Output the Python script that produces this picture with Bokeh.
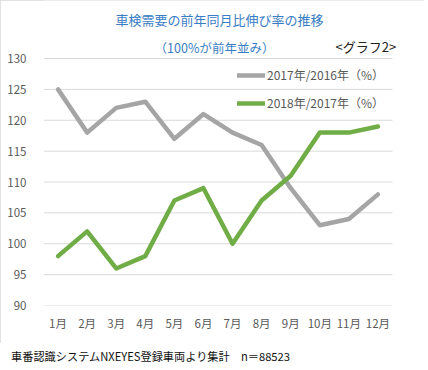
from bokeh.plotting import figure
from bokeh.models import (Label, Legend, LegendItem, FixedTicker, Div, Range1d)
from bokeh.layouts import column
from bokeh.embed import file_html
from bokeh.resources import INLINE

months = ["1月", "2月", "3月", "4月", "5月", "6月", "7月", "8月", "9月", "10月", "11月", "12月"]
s2017 = [125, 118, 122, 123, 117, 121, 118, 116, 109, 103, 104, 108]
s2018 = [98, 102, 96, 98, 107, 109, 100, 107, 111, 118, 118, 119]
yticks = [90, 95, 100, 105, 110, 115, 120, 125, 130]
name2017 = "2017年/2016年（%）"
name2018 = "2018年/2017年（%）"
title1 = "車検需要の前年同月比伸び率の推移"
title2 = "（100%が前年並み）"
tag = "<グラフ2>"
note = "車番認識システムNXEYES登録車両より集計　n＝88523"

FONT = "Noto Sans CJK JP"
W, H = 424, 343
FL, FB = 43, 38              # frame left / bottom border (px)
FH = H - FB                  # frame height (frame starts at top of figure)
PX_X = 349 / len(months)     # px per month
PX_Y = 247 / (yticks[-1] - yticks[0])

xs = list(range(len(months)))
x_end = -0.5 + (W - FL) / PX_X
y_end = yticks[0] + FH / PX_Y

p = figure(x_range=Range1d(-0.5, x_end), y_range=Range1d(yticks[0], y_end),
           width=W, height=H, output_backend="svg", toolbar_location=None,
           min_border_left=FL, min_border_right=0, min_border_top=0, min_border_bottom=FB)
p.outline_line_color = None
p.background_fill_color = "white"
p.border_fill_color = "white"
p.styles = {"outline": "1px solid #d9d9d9", "outline-offset": "-1px"}

p.xgrid.grid_line_color = None
p.ygrid.grid_line_color = None
p.segment(x0=[-0.5] * len(yticks), x1=[len(months) - 0.5] * len(yticks),
          y0=yticks, y1=yticks, line_color="#d9d9d9", line_width=1)

r1 = p.line(xs, s2017, line_color="#a5a5a5", line_width=4.5, line_join="round", line_cap="round")
r2 = p.line(xs, s2018, line_color="#70ad47", line_width=4.5, line_join="round", line_cap="round")

p.yaxis.ticker = FixedTicker(ticks=yticks)
p.xaxis.ticker = FixedTicker(ticks=xs)
p.xaxis.major_label_overrides = {i: m for i, m in zip(xs, months)}
for ax in (p.xaxis[0], p.yaxis[0]):
    ax.axis_line_color = None
    ax.major_tick_line_color = None
    ax.minor_tick_line_color = None
    ax.major_label_text_color = "#595959"
    ax.major_label_text_font = FONT
    ax.major_label_text_font_size = "11.5px"
p.yaxis.major_label_standoff = 11
p.xaxis.major_label_standoff = 3

legend = Legend(items=[LegendItem(label=name2017, renderers=[r1]),
                       LegendItem(label=name2018, renderers=[r2])],
                location=(194, 194), padding=0, margin=0, spacing=11,
                glyph_width=28, glyph_height=14, label_height=14, label_standoff=2,
                label_text_font=FONT, label_text_font_size="12px", label_text_color="#595959",
                background_fill_alpha=0, border_line_color=None)
p.add_layout(legend)

p.add_layout(Label(x=219 - FL, y=FH - 19, x_units="screen", y_units="screen", text=title1,
                   text_align="center", text_baseline="middle", text_font=FONT,
                   text_font_size="13px", text_color="#3a7dc4"))
p.add_layout(Label(x=214 - FL, y=FH - 47, x_units="screen", y_units="screen", text=title2,
                   text_align="center", text_baseline="middle", text_font=FONT,
                   text_font_size="12.5px", text_color="#3a7dc4"))
p.add_layout(Label(x=335 - FL, y=FH - 46, x_units="screen", y_units="screen", text=tag,
                   text_align="left", text_baseline="middle", text_font=FONT,
                   text_font_size="13px", text_color="#222222"))

d = Div(text=note, width=W, height=20,
        styles={"font-family": FONT, "font-size": "11.2px", "line-height": "14px",
                "color": "#111111", "margin-top": "6px", "margin-left": "11px"})

layout = column(p, d, spacing=0)
open("out.html", "w").write(file_html(layout, INLINE))
